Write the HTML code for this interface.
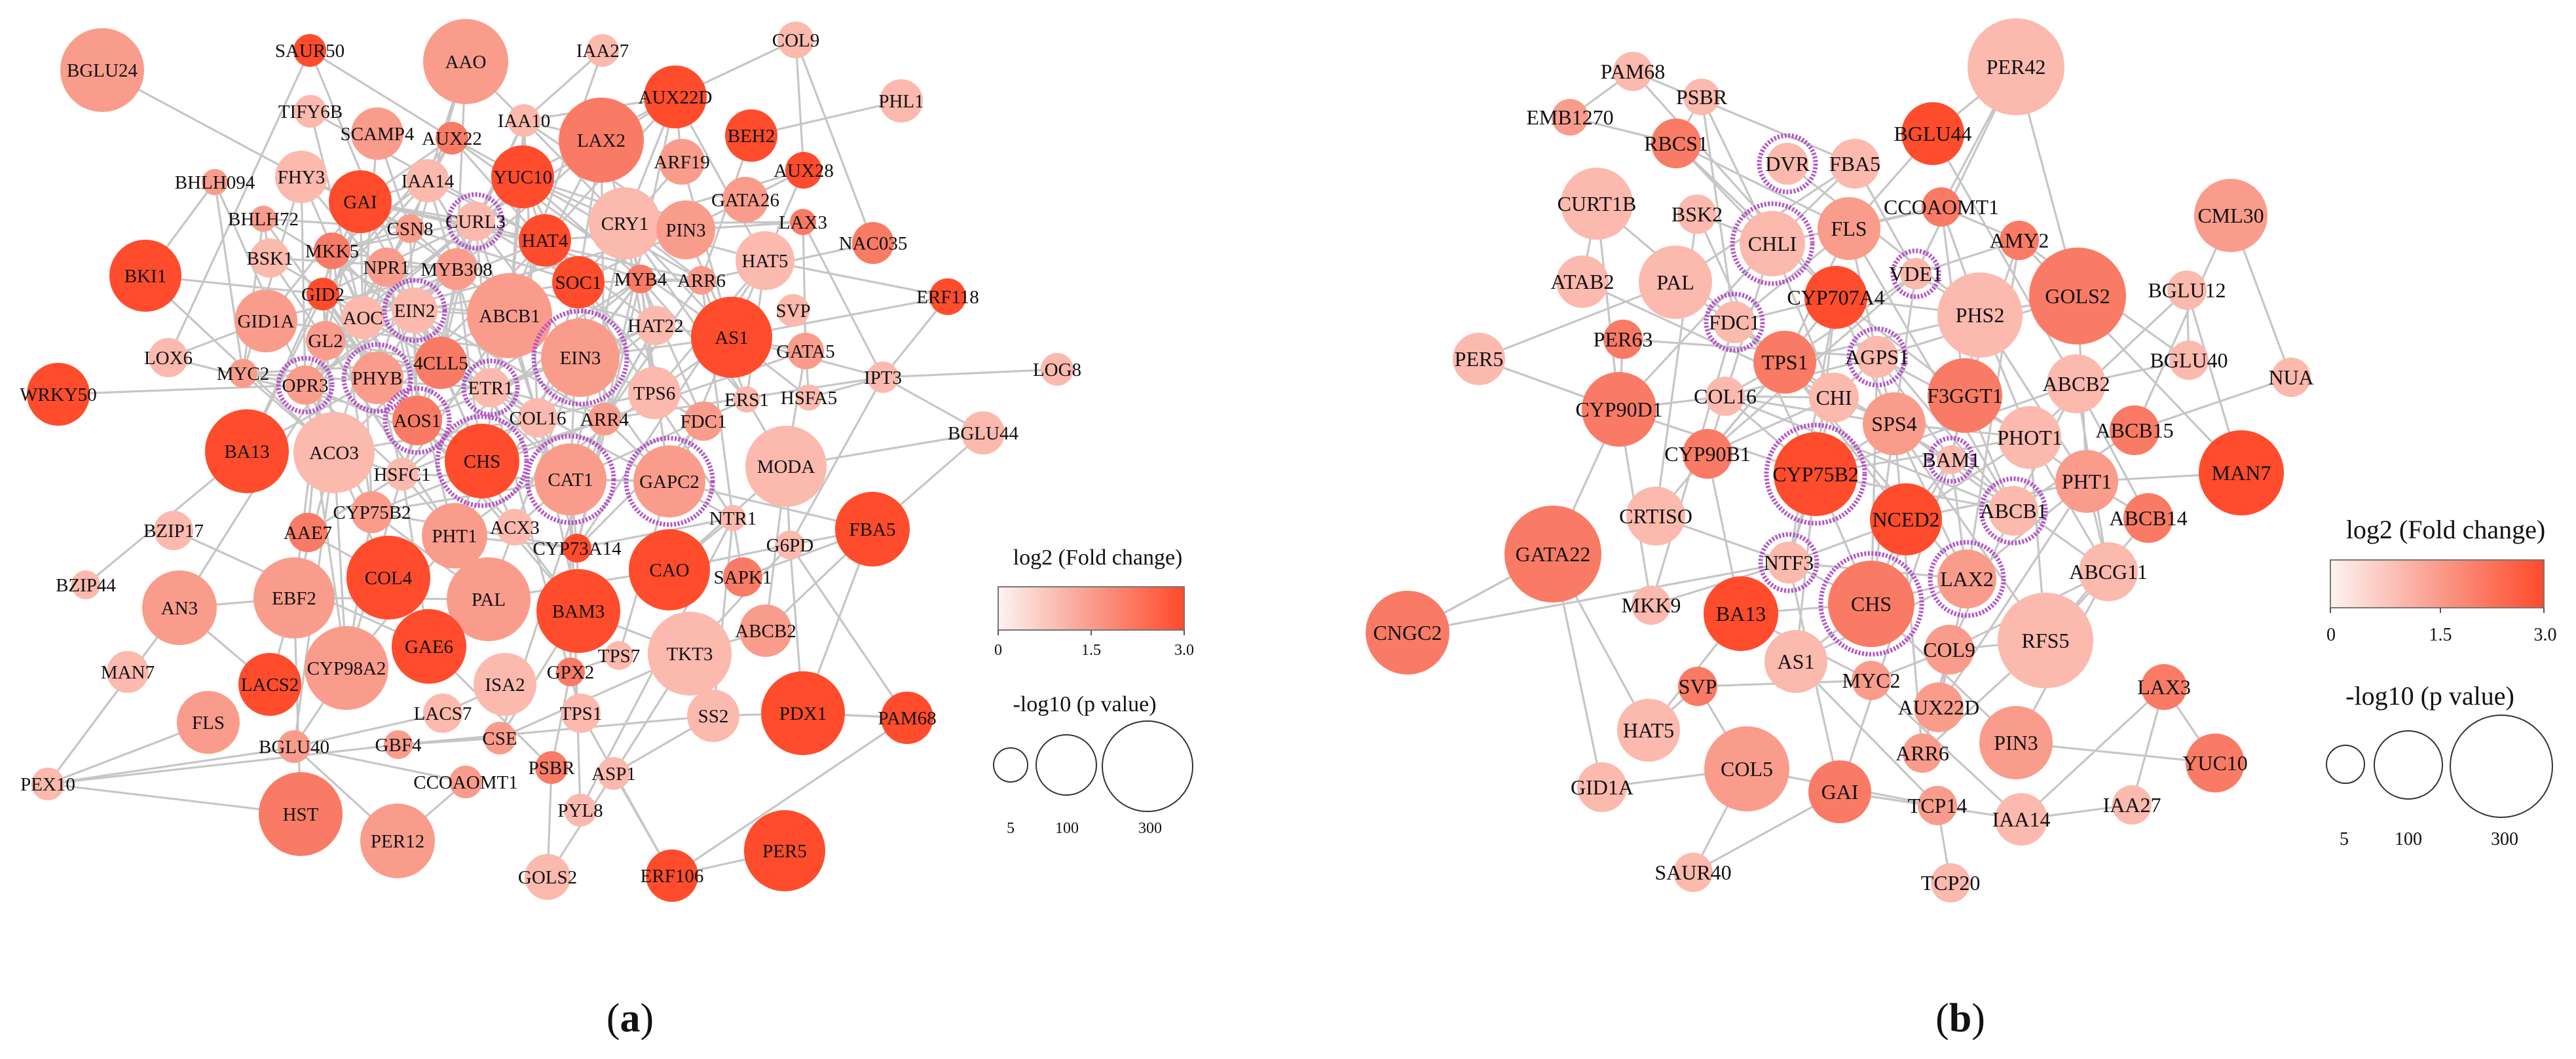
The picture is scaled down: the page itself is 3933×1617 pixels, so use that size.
<!DOCTYPE html>
<html><head><meta charset="utf-8"><style>
html,body{margin:0;padding:0;background:#fff}
svg{display:block}
text{font-family:"Liberation Serif",serif;fill:#111}
</style></head><body>
<svg id="s" width="3933" height="1617" viewBox="0 0 3933 1617" xmlns="http://www.w3.org/2000/svg">
<defs><linearGradient id="g" x1="0" x2="1"><stop offset="0" stop-color="#fdf3f1"/><stop offset="0.5" stop-color="#fa9c8c"/><stop offset="1" stop-color="#ff4a2a"/></linearGradient></defs>
<g id="edges" stroke="#c6c6c6" stroke-width="3.2"></g>
<g id="nodes"></g>
<g id="legend">
<text x="1676" y="862" font-size="34" text-anchor="middle">log2 (Fold  change)</text>
<rect x="1524" y="896" width="284" height="66" fill="url(#g)" stroke="#777" stroke-width="2"/>
<line x1="1524" y1="962" x2="1524" y2="970" stroke="#555" stroke-width="2"/><line x1="1666" y1="962" x2="1666" y2="970" stroke="#555" stroke-width="2"/><line x1="1808" y1="962" x2="1808" y2="970" stroke="#555" stroke-width="2"/>
<text x="1524" y="1000" font-size="24" text-anchor="middle">0</text><text x="1666" y="1000" font-size="24" text-anchor="middle">1.5</text><text x="1808" y="1000" font-size="24" text-anchor="middle">3.0</text>
<text x="1656" y="1086" font-size="34" text-anchor="middle">-log10 (p value)</text>
<circle cx="1543" cy="1168" r="26" fill="none" stroke="#333" stroke-width="2"/><circle cx="1628" cy="1168" r="46" fill="none" stroke="#333" stroke-width="2"/><circle cx="1752" cy="1170" r="69" fill="none" stroke="#333" stroke-width="2"/>
<text x="1543" y="1272" font-size="24" text-anchor="middle">5</text><text x="1629" y="1272" font-size="24" text-anchor="middle">100</text><text x="1756" y="1272" font-size="24" text-anchor="middle">300</text>

<text x="3734" y="822" font-size="40" text-anchor="middle">log2 (Fold  change)</text>
<rect x="3558" y="855" width="326" height="73" fill="url(#g)" stroke="#777" stroke-width="2"/>
<line x1="3558" y1="928" x2="3558" y2="936" stroke="#555" stroke-width="2"/><line x1="3726" y1="928" x2="3726" y2="936" stroke="#555" stroke-width="2"/><line x1="3884" y1="928" x2="3884" y2="936" stroke="#555" stroke-width="2"/>
<text x="3559" y="978" font-size="28" text-anchor="middle">0</text><text x="3726" y="978" font-size="28" text-anchor="middle">1.5</text><text x="3886" y="978" font-size="28" text-anchor="middle">3.0</text>
<text x="3710" y="1076" font-size="40" text-anchor="middle">-log10 (p value)</text>
<circle cx="3581" cy="1167" r="29" fill="none" stroke="#333" stroke-width="2"/><circle cx="3677" cy="1168" r="52" fill="none" stroke="#333" stroke-width="2"/><circle cx="3819" cy="1170" r="78" fill="none" stroke="#333" stroke-width="2"/>
<text x="3579" y="1290" font-size="28" text-anchor="middle">5</text><text x="3677" y="1290" font-size="28" text-anchor="middle">100</text><text x="3824" y="1290" font-size="28" text-anchor="middle">300</text>

<text x="962" y="1575" font-size="62" text-anchor="middle">(<tspan font-weight="bold">a</tspan>)</text>
<text x="2993" y="1575" font-size="62" text-anchor="middle">(<tspan font-weight="bold">b</tspan>)</text>
</g>
</svg>
<script>
var C={L:"#fcb9ae",M:"#fa9c8c",D:"#f97b65",X:"#ff4c2c"};
var A=`BGLU24 156 107 64 M
SAUR50 473 77 25 X
AAO 711 94 65 M
IAA27 920 77 25 L
COL9 1215 61 28 L
TIFY6B 474 170 25 L
SCAMP4 576 204 40 M
AUX22 690 211 25 D
IAA10 800 184 25 L
LAX2 918 214 65 D
AUX22D 1031 148 48 X
BEH2 1147 207 40 X
AUX28 1227 260 28 X
ARF19 1041 247 35 M
BHLH094 328 278 20 M
FHY3 460 270 40 L
GAI 550 308 48 X
IAA14 653 276 33 L
YUC10 798 270 48 X
GATA26 1138 305 35 M
LAX3 1226 339 20 D
BHLH72 402 334 20 M
CSN8 626 349 22 M
CURL3 726 338 30 L R
HAT4 832 367 40 X
CRY1 954 341 55 L
PIN3 1047 351 45 M
HAT5 1168 398 45 L
BSK1 412 394 30 L
MKK5 507 383 28 D
NPR1 590 408 30 M
MYB308 697 411 32 M
SOC1 883 431 40 X
MYB4 978 426 22 D
ARR6 1071 428 22 M
BKI1 222 421 55 X
GID2 493 449 25 X
GID1A 406 490 48 M
GL2 497 520 30 M
AOC 554 485 33 L
EIN2 633 474 35 L R
ABCB1 778 482 65 M
EIN3 886 546 60 M R
HAT22 1001 497 30 L
AS1 1117 515 62 X
SVP 1211 474 25 L
GATA5 1230 536 28 M
LOX6 257 546 30 L
MYC2 371 570 22 M
OPR3 466 588 30 M R
PHYB 576 577 40 M R
4CLL5 673 554 40 D
ETR1 749 592 30 L R
TPS6 999 600 40 L
ERS1 1140 610 20 L
HSFA5 1235 607 20 L
WRKY50 89 602 48 X
AOS1 637 642 38 D R
COL16 821 638 30 L
ARR4 923 640 25 M
FDC1 1074 643 30 M
BA13 377 689 64 X
ACO3 510 691 62 L
HSFC1 614 724 25 L
CHS 736 704 57 X R
CAT1 871 732 55 M R
GAPC2 1022 735 55 M R
MODA 1200 712 62 L
NTR1 1119 791 20 L
CYP75B2 568 782 32 M
BZIP17 265 810 30 L
AAE7 470 813 30 D
PHT1 694 818 50 M
ACX3 786 805 28 L
CYP73A14 881 837 22 X
CAO 1022 870 62 X
G6PD 1206 832 22 L
SAPK1 1134 881 30 D
BZIP44 131 893 22 L
AN3 274 928 57 M
EBF2 449 913 62 M
COL4 593 882 64 X
PAL 746 915 64 M
BAM3 883 933 64 X
ABCB2 1169 963 40 M
GAE6 655 987 57 X
TPS7 945 1001 22 L
TKT3 1053 998 64 L
MAN7 195 1026 32 L
LACS2 412 1045 48 X
CYP98A2 529 1020 64 M
ISA2 771 1045 48 L
GPX2 871 1026 22 D
FLS 318 1103 48 M
LACS7 676 1089 30 L
TPS1 887 1089 30 L
SS2 1089 1093 40 L
PDX1 1226 1089 64 X
BGLU40 449 1140 25 M
GBF4 608 1137 22 M
CSE 763 1127 25 M
PEX10 73 1197 25 L
CCOAOMT1 711 1194 25 M
PSBR 842 1172 25 D
ASP1 937 1181 25 L
HST 459 1243 64 D
PER12 607 1284 57 M
PYL8 886 1237 25 L
PER5 1198 1299 62 X
GOLS2 836 1339 35 L
ERF106 1026 1337 40 X
PHL1 1376 154 33 L
NAC035 1333 371 32 D
ERF118 1447 453 28 X
IPT3 1348 576 24 L
LOG8 1614 564 25 L
BGLU44 1501 661 33 L
FBA5 1332 808 57 X
PAM68 1385 1096 40 X`;
var B=`PAM68 2493 109 30 L
PSBR 2598 148 28 L
EMB1270 2397 179 28 M
RBCS1 2559 219 38 D
DVR 2729 250 32 L R
FBA5 2832 250 38 L
BGLU44 2951 204 48 X
PER42 3078 102 74 L
CURT1B 2438 311 55 L
BSK2 2591 327 30 L
CHLI 2706 372 50 L R
FLS 2823 349 48 M
CCOAOMT1 2964 316 30 D
VDE1 2925 418 24 L R
AMY2 3083 367 30 D
CML30 3406 329 56 M
ATAB2 2416 430 40 L
PAL 2558 431 56 L
FDC1 2648 492 32 L R
CYP707A4 2803 454 48 X
PHS2 3023 481 65 L
GOLS2 3172 452 74 D
BGLU12 3339 443 30 L
PER63 2478 518 30 D
PER5 2258 548 40 L
TPS1 2725 553 48 D
AGPS1 2866 545 32 L R
BGLU40 3342 550 30 L
NUA 3498 576 30 L
ABCB2 3170 586 45 L
F3GGT1 3000 604 57 D
CYP90D1 2472 625 57 D
COL16 2634 605 30 L
CHI 2800 607 38 L
SPS4 2892 647 48 M
PHOT1 3099 668 48 L
ABCB15 3259 657 38 D
CYP90B1 2607 693 38 D
BAM1 2979 702 22 L R
CYP75B2 2772 724 64 X R
PHT1 3186 735 48 M
MAN7 3422 722 65 X
CRTISO 2528 788 45 L
NCED2 2910 793 55 X
ABCB1 3074 780 38 L R
ABCB14 3280 791 38 D
GATA22 2371 846 74 D
NTF3 2731 859 32 L R
CHS 2857 922 66 D R
LAX2 3003 884 45 M R
ABCG11 3219 873 45 L
CNGC2 2149 966 64 D
MKK9 2521 924 30 L
BA13 2658 937 57 X
RFS5 3123 978 73 L
COL9 2976 992 38 M
AS1 2742 1010 48 L
MYC2 2857 1039 30 M
SVP 2592 1048 30 D
LAX3 3304 1049 35 D
AUX22D 2960 1080 38 M
HAT5 2517 1115 48 L
PIN3 3078 1134 56 M
ARR6 2935 1150 30 M
YUC10 3382 1165 45 D
COL5 2667 1174 65 M
GAI 2809 1209 48 D
GID1A 2446 1202 38 L
TCP14 2958 1230 30 M
IAA14 3086 1251 40 L
IAA27 3255 1229 30 L
SAUR40 2585 1332 30 L
TCP20 2978 1348 30 L`;
function parse(t){return t.split("\n").map(function(l){var p=l.trim().split(/\s+/);return{n:p[0],x:+p[1],y:+p[2],r:+p[3],c:p[4],ring:p[5]=="R"};});}
var NS="http://www.w3.org/2000/svg";
var E=document.getElementById("edges"),N=document.getElementById("nodes");
var seed=12345;function rnd(){seed=(seed*1103515245+12345)%2147483648;return seed/2147483648;}
function el(t,a,p){var e=document.createElementNS(NS,t);for(var k in a)e.setAttribute(k,a[k]);p.appendChild(e);return e;}
function draw(nodes,fs,cx,cy){
 var s="";
 for(var i=0;i<nodes.length;i++){for(var j=i+1;j<nodes.length;j++){
  var a=nodes[i],b=nodes[j],d=Math.hypot(a.x-b.x,a.y-b.y);
  var da=Math.hypot(a.x-cx,a.y-cy),db=Math.hypot(b.x-cx,b.y-cy);
  var core=(da<380&&db<380)?0.36:0.13;
  if((d<320&&rnd()<core)||(d<540&&rnd()<0.035)){s+="M"+a.x+" "+a.y+"L"+b.x+" "+b.y;}
 }}
 el("path",{d:s,fill:"none"},E);
 nodes.forEach(function(n){
  el("circle",{cx:n.x,cy:n.y,r:n.r,fill:C[n.c]},N);
  if(n.ring){el("circle",{cx:n.x,cy:n.y,r:n.r+11,fill:"none",stroke:"#b455c8","stroke-width":7,"stroke-dasharray":"3 2.5"},N);}
 });
 nodes.forEach(function(n){var t=el("text",{x:n.x,y:n.y+fs*0.34,"font-size":fs,"text-anchor":"middle"},N);t.textContent=n.n;});
}
var a=parse(A),b=parse(B);
draw(a,29,800,560);
draw(b,32,2850,650);
var extra=[[156,107,460,270],[473,77,690,211],[89,602,466,588],[73,1197,318,1103],[73,1197,459,1140],[1376,154,1147,207],[1614,564,1348,576],[1501,661,1332,808],[1501,661,1348,576],[1385,1096,1206,832],[1385,1096,1226,1089],[1215,61,1031,148],[1447,453,1168,398],[2149,966,2371,846],[2149,966,2731,859],[2258,548,2558,431],[3078,102,3172,452],[3078,102,2951,204],[3406,329,3498,576],[3406,329,3259,657],[3498,576,3259,657],[3339,443,3099,668],[3342,550,3170,586],[3422,722,3186,735],[2978,1348,2958,1230],[2585,1332,2667,1174],[2446,1202,2371,846],[2446,1202,2667,1174]];
var s="";extra.forEach(function(e){s+="M"+e[0]+" "+e[1]+"L"+e[2]+" "+e[3];});
el("path",{d:s,fill:"none"},E);
</script>
</body></html>
